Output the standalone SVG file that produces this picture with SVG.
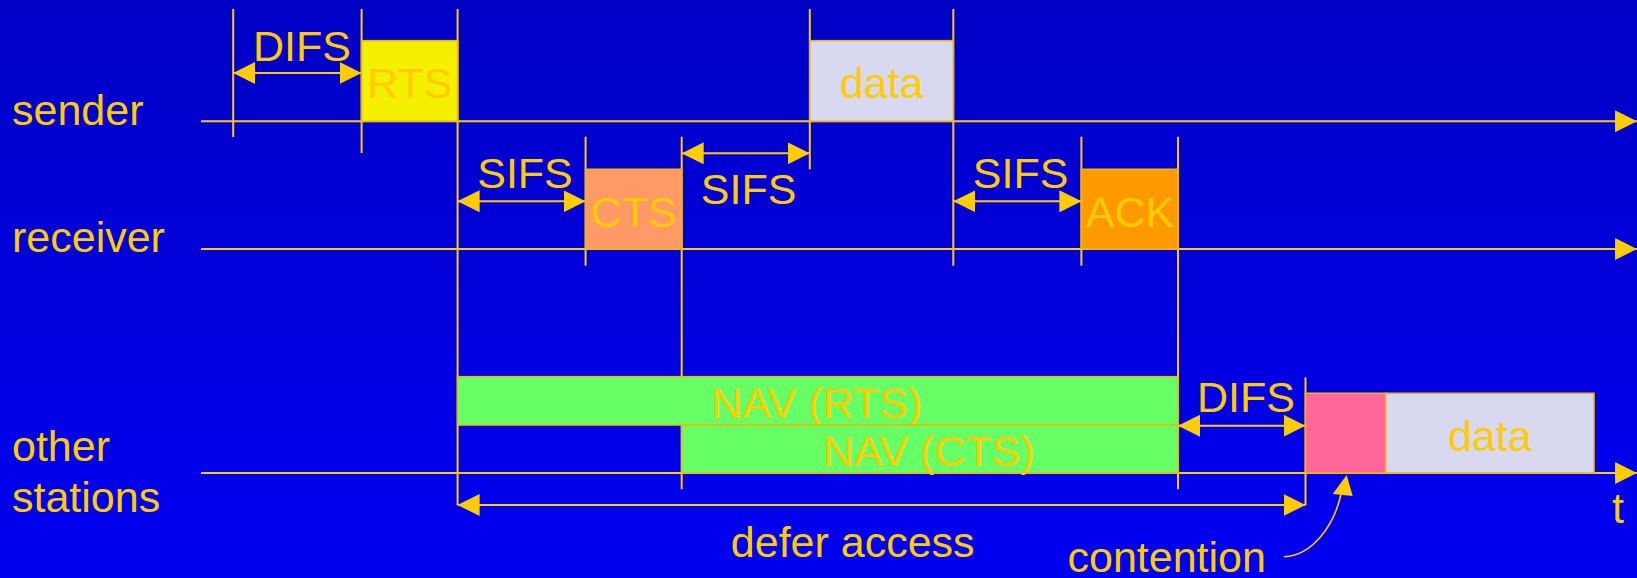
<svg xmlns="http://www.w3.org/2000/svg" width="1637" height="578" viewBox="0 0 1637 578">
<defs>
<linearGradient id="bg" x1="0" y1="0" x2="0" y2="1">
<stop offset="0" stop-color="#0000C6"/>
<stop offset="1" stop-color="#0000F2"/>
</linearGradient>
<marker id="ah" markerUnits="userSpaceOnUse" markerWidth="22" markerHeight="22" viewBox="0 0 20 20" refX="20" refY="10" orient="auto-start-reverse">
<path d="M0,0 L20,10 L0,20 Z" fill="#FFCC00"/>
</marker>
<style>
text{font-family:"Liberation Sans",Arial,sans-serif;font-size:43px;fill:#FFCC00}
.m{text-anchor:middle}
.ln{stroke:#FFCC00;stroke-width:2;fill:none}
.box{stroke:#F0B800;stroke-width:1.6}
</style>
</defs>
<rect width="1637" height="578" fill="url(#bg)"/>

<g id="row-labels">
<text x="12" y="125">sender</text>
<text x="12" y="252">receiver</text>
<text x="12" y="461">other</text>
<text x="12" y="512">stations</text>
<text x="1618" y="523" class="m">t</text>
</g>

<g id="connectors">
<!-- time axes -->
<line class="ln" x1="201" y1="121.3" x2="1637" y2="121.3" marker-end="url(#ah)"/>
<line class="ln" x1="201" y1="249" x2="1637" y2="249" marker-end="url(#ah)"/>
<line class="ln" x1="201" y1="473" x2="1637" y2="473" marker-end="url(#ah)"/>
<!-- vertical time markers -->
<line class="ln" x1="233.2" y1="9" x2="233.2" y2="137"/>
<line class="ln" x1="361.6" y1="9" x2="361.6" y2="153"/>
<line class="ln" x1="457.6" y1="9" x2="457.6" y2="505"/>
<line class="ln" x1="809.8" y1="9" x2="809.8" y2="169.3"/>
<line class="ln" x1="953.3" y1="9" x2="953.3" y2="265.7"/>
<line class="ln" x1="585.6" y1="136.7" x2="585.6" y2="265.7"/>
<line class="ln" x1="681.7" y1="136.7" x2="681.7" y2="489.3"/>
<line class="ln" x1="1081.4" y1="136.7" x2="1081.4" y2="265.7"/>
<line class="ln" x1="1178" y1="136.7" x2="1178" y2="489.3"/>
<line class="ln" x1="1305.5" y1="377.3" x2="1305.5" y2="505"/>
<!-- interval arrows -->
<line class="ln" x1="233.2" y1="73" x2="361.6" y2="73" marker-start="url(#ah)" marker-end="url(#ah)"/>
<line class="ln" x1="457.6" y1="201.3" x2="585.6" y2="201.3" marker-start="url(#ah)" marker-end="url(#ah)"/>
<line class="ln" x1="681.7" y1="153.3" x2="809.8" y2="153.3" marker-start="url(#ah)" marker-end="url(#ah)"/>
<line class="ln" x1="953.3" y1="201.3" x2="1081.4" y2="201.3" marker-start="url(#ah)" marker-end="url(#ah)"/>
<line class="ln" x1="1178" y1="425.7" x2="1305.5" y2="425.7" marker-start="url(#ah)" marker-end="url(#ah)"/>
<line class="ln" x1="457.6" y1="505" x2="1305.5" y2="505" marker-start="url(#ah)" marker-end="url(#ah)"/>
<!-- contention pointer -->
<path d="M1284,556.7 C1312,556 1334,526 1341,494" stroke="#FFCC00" stroke-width="1.6" fill="none"/>
<path d="M1346.7,475 L1332.7,494 L1352.7,496 Z" fill="#FFCC00"/>
</g>

<g id="interval-labels">
<text x="302" y="61" class="m">DIFS</text>
<text x="525" y="188.3" class="m">SIFS</text>
<text x="748.6" y="204.3" class="m">SIFS</text>
<text x="1020.6" y="188.3" class="m">SIFS</text>
<text x="1246" y="412" class="m">DIFS</text>
<text x="852.7" y="556.7" class="m">defer access</text>
<text x="1166.7" y="571.7" class="m">contention</text>
</g>

<g id="node-rts">
<rect class="box" x="361.6" y="40.7" width="96" height="80.6" fill="#F5EF00"/>
<text x="409.6" y="98.3" class="m">RTS</text>
</g>
<g id="node-data-sender">
<rect class="box" x="809.8" y="40.7" width="143.5" height="80.6" fill="#D8D8F0"/>
<text x="881.5" y="97.7" class="m">data</text>
</g>
<g id="node-cts">
<rect class="box" x="585.6" y="169.3" width="96.1" height="79.7" fill="#FF9966"/>
<text x="633.6" y="226.7" class="m">CTS</text>
</g>
<g id="node-ack">
<rect class="box" x="1081.4" y="169.3" width="96.6" height="79.7" fill="#FF9900"/>
<text x="1130" y="226.7" class="m">ACK</text>
</g>
<g id="node-nav-rts">
<rect class="box" x="457.6" y="376.7" width="720.4" height="48.3" fill="#66FF66"/>
<text x="816.8" y="417.7" class="m">NAV (RTS)</text>
</g>
<g id="node-nav-cts">
<rect class="box" x="681.7" y="425" width="496.3" height="48" fill="#66FF66"/>
<text x="928.8" y="466" class="m">NAV (CTS)</text>
</g>
<g id="node-contention">
<rect class="box" x="1305.5" y="393.3" width="80.2" height="79.7" fill="#FF6699"/>
</g>
<g id="node-data-other">
<rect class="box" x="1385.7" y="393.3" width="208.3" height="79.7" fill="#D8D8F0"/>
<text x="1489.8" y="450.7" class="m">data</text>
</g>
</svg>
